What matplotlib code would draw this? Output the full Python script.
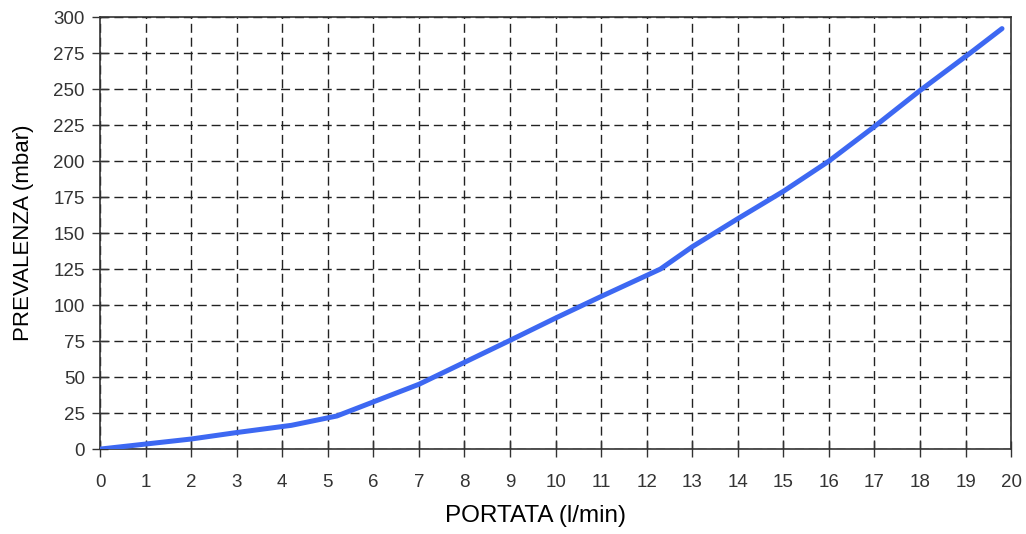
import numpy as np
import matplotlib.pyplot as plt

plt.rcParams['font.family'] = ['Liberation Sans', 'DejaVu Sans']

# curve
portata = [0, 1, 2, 3, 4.2, 5.2, 7, 9, 10, 11, 12.3, 13, 14, 15, 16, 17, 18, 19.1, 19.8]
prevalenza = [0, 3.5, 7, 11.5, 16.5, 23, 45, 75.5, 91, 106, 125, 140.5, 160, 179, 200, 224, 249, 275, 292]

x_ticks = list(range(0, 21))
y_ticks = list(range(0, 301, 25))

fig = plt.figure(figsize=(10.26, 5.34), dpi=100)
ax = fig.add_axes([0.0975, 0.159, 0.888, 0.809])

ax.plot(portata, prevalenza, color='#3d68f2', linewidth=3.6, solid_capstyle='round', zorder=3)

ax.set_xlim(0, 20)
ax.set_ylim(0, 300)
ax.set_xticks(x_ticks)
ax.set_yticks(y_ticks)
ax.grid(True, color='#222222', linestyle=(0, (6.5, 3.5)), linewidth=1.0)
ax.tick_params(direction='inout', length=12, width=1, labelsize=13.5, colors='#333333')
ax.tick_params(axis='x', pad=12)
ax.tick_params(axis='y', pad=5)

for s in ax.spines.values():
    s.set_color('#333333')
    s.set_linewidth(1.2)

ax.set_xlabel('PORTATA (l/min)', fontsize=17.5, labelpad=12)
ax.xaxis.set_label_coords(0.4775, -0.13)
ax.set_ylabel('PREVALENZA (mbar)', fontsize=16, labelpad=14)

fig.savefig('out.png', dpi=100)
